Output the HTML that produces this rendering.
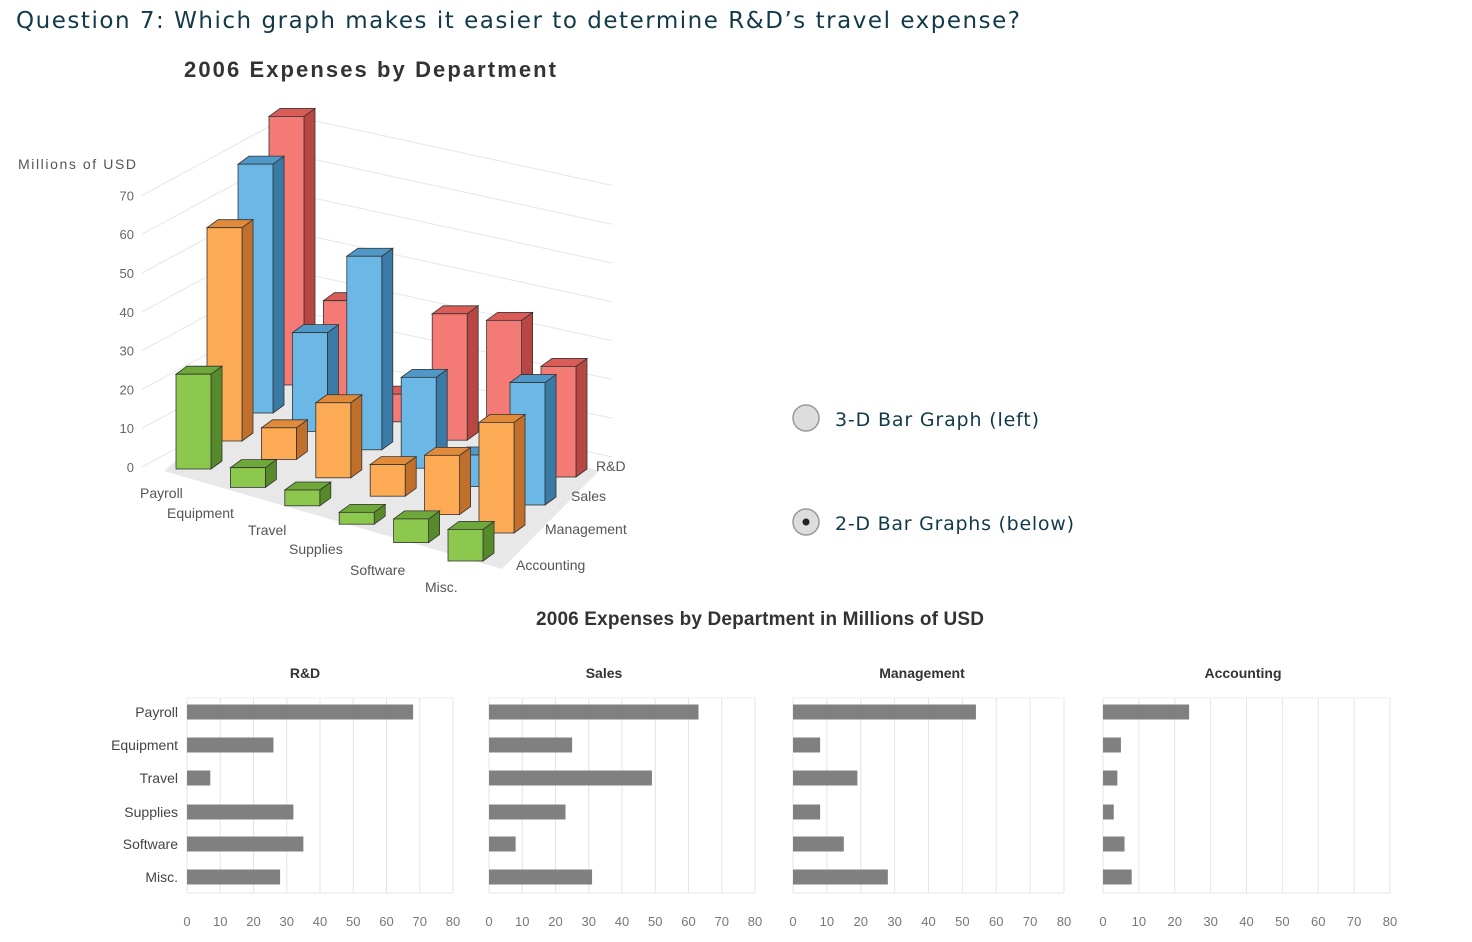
<!DOCTYPE html>
<html><head><meta charset="utf-8"><style>
body{margin:0;background:#fff;width:1472px;height:942px;overflow:hidden;font-family:"Liberation Sans",sans-serif}
svg{position:absolute;left:0;top:0}
</style></head><body>
<svg id="s" width="1472" height="942">
<text x="16" y="28" font-size="23" fill="#12394a" font-family="DejaVu Sans" textLength="1004">Question 7: Which graph makes it easier to determine R&amp;D’s travel expense?</text>
<text x="184" y="77" font-size="22" font-weight="bold" fill="#333" textLength="372">2006 Expenses by Department</text>
<text x="18" y="169" font-size="14" fill="#555" textLength="118">Millions of USD</text>
<g><circle cx="806" cy="418" r="13" fill="#ddd" stroke="#999" stroke-width="1.5"/><text x="835" y="426" font-size="19" font-family="DejaVu Sans" fill="#12394a" textLength="204">3-D Bar Graph (left)</text></g>
<g><circle cx="806" cy="522" r="13" fill="#ddd" stroke="#999" stroke-width="1.5"/><circle cx="806" cy="522" r="3.5" fill="#222"/><text x="835" y="530" font-size="19" font-family="DejaVu Sans" fill="#12394a" textLength="239">2-D Bar Graphs (below)</text></g>
<text x="760" y="625" font-size="19" font-weight="bold" fill="#333" text-anchor="middle" textLength="448">2006 Expenses by Department in Millions of USD</text>
<g id="g3"></g><g id="g2"></g>
</svg>
<script>
const categories=["Payroll","Equipment","Travel","Supplies","Software","Misc."];
const departments=["R&D","Sales","Management","Accounting"];
const rdValues=[68,26,7,32,35,28];
const salesValues=[63,25,49,23,8,31];
const mgmtValues=[54,8,19,8,15,28];
const acctValues=[24,5,4,3,6,8];
const yTicks=[0,10,20,30,40,50,60,70];
const xTicks=[0,10,20,30,40,50,60,70,80];
const series=[rdValues,salesValues,mgmtValues,acctValues];
const NS="http://www.w3.org/2000/svg";
function mk(p,t,a){const e=document.createElementNS(NS,t);for(const k in a)e.setAttribute(k,a[k]);p.appendChild(e);return e;}
// 3D chart
const g3=document.getElementById('g3');
const ox=176,oy=469,cdx=54.4,cdy=18.4,rdx=-31,rdy=28,bw=35,sdx=11,sdy=-8,py=3.95;
function base(ci,ri){return [ox+ci*cdx+(3-ri)*(-rdx),oy+ci*cdy-(3-ri)*rdy];}
function yv(v){return v*py;}
const f0=base(0,3),f1=base(5,3),f2=base(5,0),f3=base(0,0);
mk(g3,'polygon',{points:`${f0[0]-12},${f0[1]+2} ${f1[0]+bw+sdx+8},${f1[1]+8} ${f2[0]+bw+sdx+12},${f2[1]-6} ${f3[0]+10},${f3[1]-14}`,fill:'#e8e8e8'});
yTicks.forEach(t=>{const y=467-t*3.88;
 const l=mk(g3,'text',{x:134,y:y+5,'font-size':13,fill:'#666','text-anchor':'end'});l.textContent=t;
 
 
 mk(g3,'polyline',{points:`142,${y} 290,${y-80} 612,${y-10}`,fill:'none',stroke:'#e6e6e6'});});
const cols=[["#f47a76","#d95c58","#b84642"],["#6bb8e6","#4f98c8","#3a7aa6"],["#fdaa55","#e08a3a","#c0702a"],["#8cc84e","#6ea83a","#568a2a"]];
for(let ri=0;ri<4;ri++){for(let ci=0;ci<6;ci++){
 const [x,y]=base(ci,ri);const h=yv(series[ri][ci]);const c=cols[ri];
 const g=mk(g3,'g',{});
 
 
 mk(g,'polygon',{points:`${x+bw},${y} ${x+bw+sdx},${y+sdy} ${x+bw+sdx},${y+sdy-h} ${x+bw},${y-h}`,fill:c[2],stroke:'#333','stroke-width':0.8});
 mk(g,'polygon',{points:`${x},${y-h} ${x+sdx},${y-h+sdy} ${x+bw+sdx},${y-h+sdy} ${x+bw},${y-h}`,fill:c[1],stroke:'#333','stroke-width':0.8});
 mk(g,'rect',{x:x,y:y-h,width:bw,height:h,fill:c[0],stroke:'#333','stroke-width':0.8});
}}
const catPos=[[140,498],[167,518],[248,535],[289,554],[350,575],[425,592]];
categories.forEach((c,i)=>{const t=mk(g3,'text',{x:catPos[i][0],y:catPos[i][1],'font-size':14,fill:'#555'});t.textContent=c;
 
 });
const depPos=[[596,471],[571,501],[545,534],[516,570]];
departments.forEach((d,i)=>{const t=mk(g3,'text',{x:depPos[i][0],y:depPos[i][1],'font-size':14,fill:'#555'});t.textContent=d;
 
 });
// 2D charts
const g2=document.getElementById('g2');
const panels=[[187,453,305],[489,755,604],[793,1064,922],[1103,1390,1243]];
const plotTop=698,plotBot=893,rowY=[712,745,778,812,844,877];
panels.forEach((p,pi)=>{const [x0,x1,tx]=p;const sx=v=>x0+v/80*(x1-x0);
 const pg=mk(g2,'g',{});
 
 
 const tt=mk(pg,'text',{x:tx,y:678,'font-size':14,'font-weight':'bold',fill:'#333','text-anchor':'middle'});tt.textContent=departments[pi];
 xTicks.forEach(t=>{mk(pg,'line',{x1:sx(t),x2:sx(t),y1:plotTop,y2:plotBot,stroke:'#e4e4e4'});
  const l=mk(pg,'text',{x:sx(t),y:926,'font-size':13,fill:'#777','text-anchor':'middle'});l.textContent=t;
  
  });
 mk(pg,'line',{x1:x0,x2:x1,y1:plotBot,y2:plotBot,stroke:'#e4e4e4'});
 mk(pg,'line',{x1:x0,x2:x1,y1:plotTop,y2:plotTop,stroke:'#eee'});
 series[pi].forEach((v,i)=>{const r=mk(pg,'rect',{x:x0,y:rowY[i]-7.5,width:sx(v)-x0,height:15,fill:'#808080'});
  
  
  if(pi==0){const l=mk(pg,'text',{x:178,y:rowY[i]+5,'font-size':14,fill:'#444','text-anchor':'end'});l.textContent=categories[i];
   
   }});
});
</script>
</body></html>
